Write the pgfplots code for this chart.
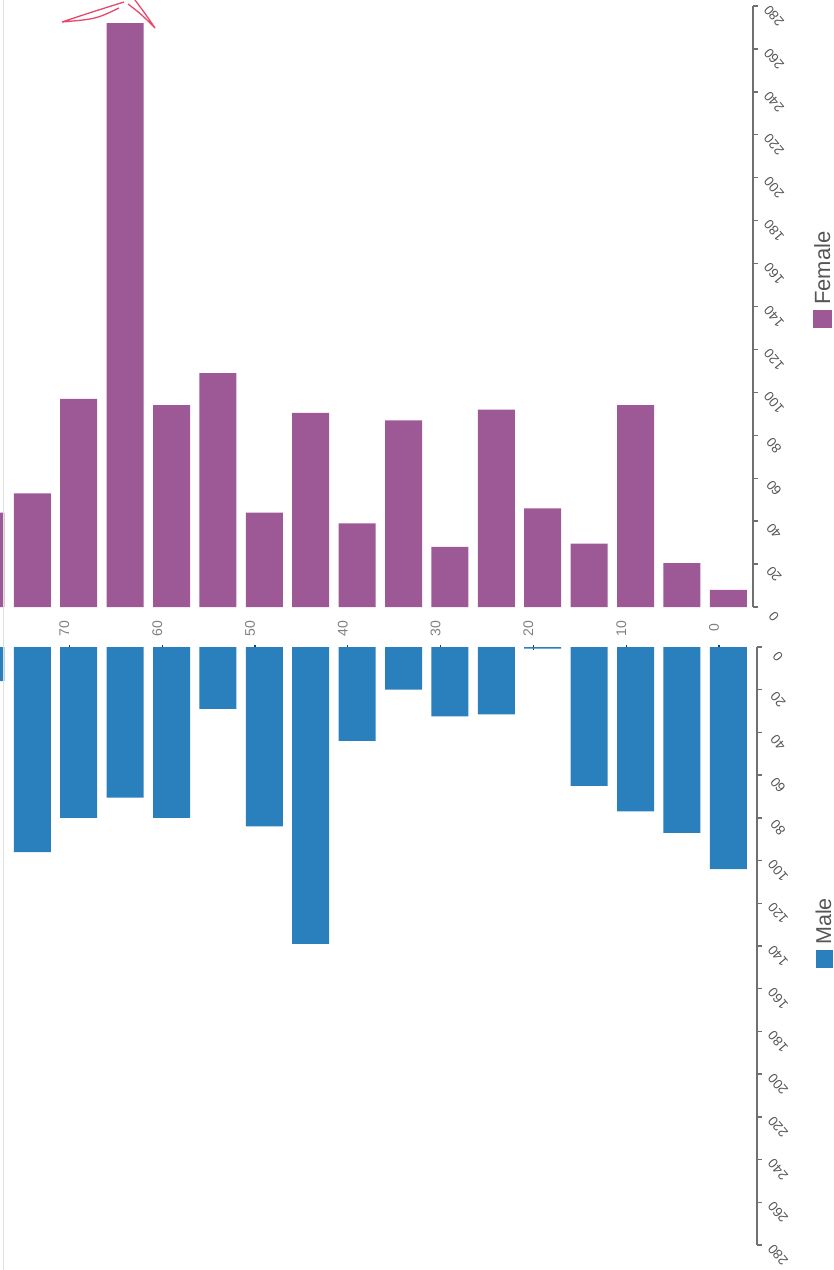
\documentclass[border=0pt]{standalone}
\usepackage{pgfplots}
\pgfplotsset{compat=1.18}
\usepackage{pgfplotstable}
\usepackage{fontspec}
\setmainfont{Liberation Sans}

\definecolor{female}{HTML}{9D5896}
\definecolor{male}{HTML}{2A80BC}
\definecolor{axisgray}{HTML}{707070}
\definecolor{labelgray}{HTML}{555555}
\definecolor{scribble}{HTML}{E8486A}

% age group, female count, male count (male drawn downwards)
\pgfplotstableread{
age female male
0   8     -104
5   20.5  -87
10  94    -77
15  29.5  -65
20  46    -0.8
25  92    -31.5
30  28    -32.5
35  87    -20
40  39    -44
45  90.5  -139
50  44    -84
55  109   -29
60  94    -80
65  272   -70.5
70  97    -80
75  53    -96
80  44    -16
}\pyramid

\pgfplotsset{
  pyramid/.style={
    scale only axis,
    x dir=reverse,
    xmax=77.48,
    ybar,
    bar width=37pt,
    axis y line=right,
    y axis line style={-, draw=axisgray, line width=1.6pt},
    ytick style={draw=axisgray, line width=1.4pt},
    tick align=outside,
    major tick length=5pt,
    /pgf/number format/assume math mode=true,
    yticklabel style={font=\fontsize{13.5}{14}\selectfont, text=labelgray,
      anchor=center, xshift=16pt, yshift=-10pt, rotate=130},
    xtick={0,10,...,70},
  }
}

\begin{document}
\begin{tikzpicture}
\useasboundingbox (0pt,0pt) rectangle (834pt,-1270pt);

% Female (upper half)
\begin{axis}[
    pyramid,
    anchor=south west, at={(0pt,-607pt)},
    width=753pt, height=601pt,
    xmin=-3.66,
    ymin=0, ymax=280,
    ytick={0,20,...,280},
    axis x line=bottom,
    x axis line style={draw=none},
    xtick style={draw=none},
    xticklabel={\rotatebox[origin=c]{90}{\pgfmathprintnumber{\tick}}},
    xticklabel style={font=\fontsize{14}{14}\selectfont, text=gray,
      anchor=center, xshift=-5pt, yshift=-19pt},
]
\addplot[fill=female, draw=none, bar shift=9.3pt] table[x=age, y=female] {\pyramid};
\end{axis}

% Male (lower half)
\begin{axis}[
    pyramid,
    anchor=north west, at={(0pt,-647pt)},
    width=757pt, height=598pt,
    xmin=-4.09,
    ymin=-280, ymax=0,
    ytick={-280,-260,...,0},
    yticklabel={\pgfmathparse{-\tick}\pgfmathprintnumber{\pgfmathresult}},
    axis x line=top,
    x axis line style={draw=none},
    xtick style={draw=male!55!black, line width=1.2pt},
    xticklabel={\phantom{0}},
]
\addplot[fill=male, draw=none, bar shift=9.3pt] table[x=age, y=male] {\pyramid};
\end{axis}

% legend
\fill[female] (813pt,-310pt) rectangle (832pt,-328pt);
\node[rotate=90, anchor=base west, inner sep=0pt, text=labelgray,
      font=\fontsize{22}{22}\selectfont] at (830pt,-305pt) {Female};
\fill[male] (816pt,-950pt) rectangle (833pt,-968pt);
\node[rotate=90, anchor=base west, inner sep=0pt, text=labelgray,
      font=\fontsize{21.5}{22}\selectfont] at (831pt,-945pt) {Male};

% scan edge and pen mark
\draw[gray!25, line width=0.8pt] (3pt,0pt) -- (3pt,-1270pt);
\draw[scribble, line width=1.3pt]
  (62pt,-22pt) .. controls (92pt,-12pt) .. (124pt,-2pt)
  (62pt,-22pt) .. controls (96pt,-19pt) .. (119pt,-8pt)
  (128pt,-4pt) .. controls (141pt,-14pt) .. (155pt,-28pt)
  (135pt,0pt) .. controls (144pt,-12pt) .. (155pt,-28pt);
\end{tikzpicture}
\end{document}
